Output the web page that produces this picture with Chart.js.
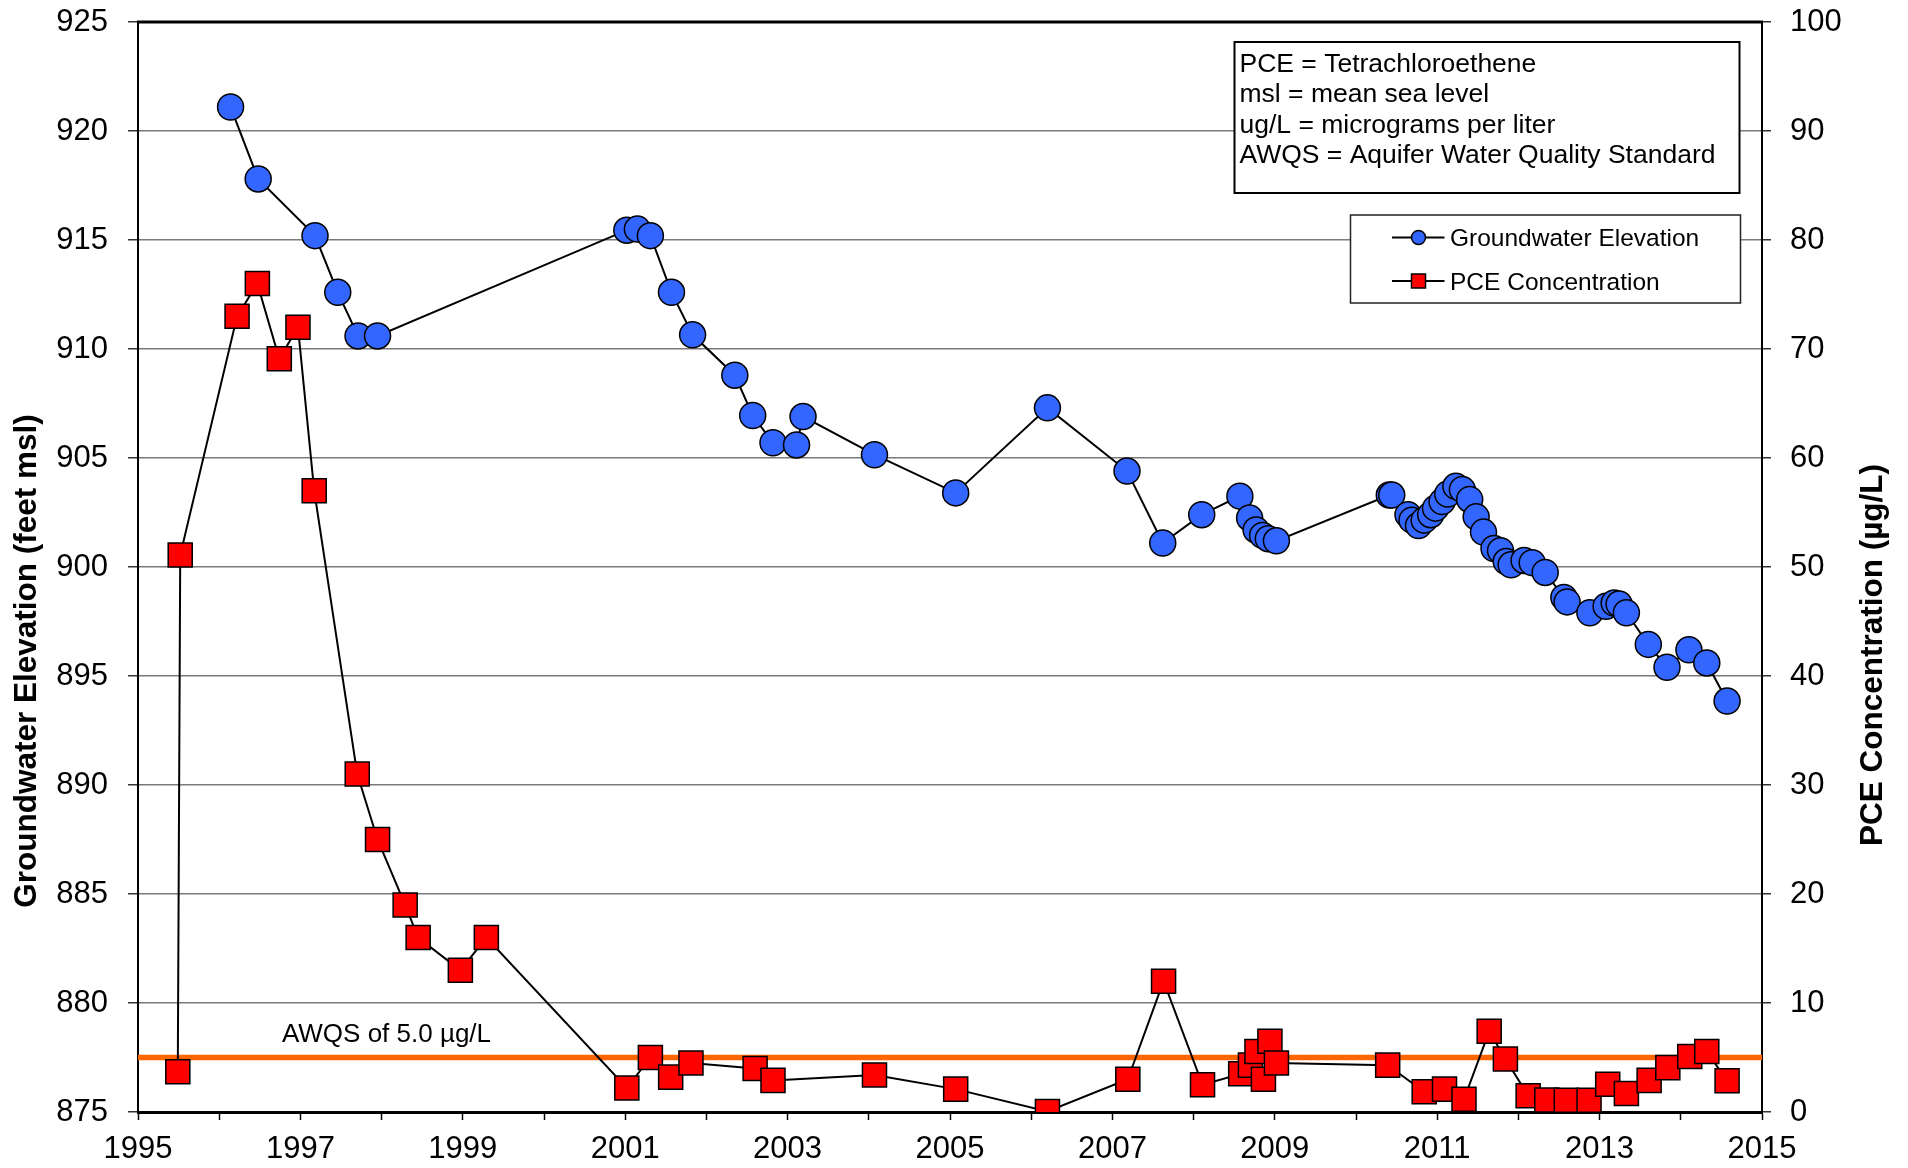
<!DOCTYPE html>
<html>
<head>
<meta charset="utf-8">
<script src="https://cdn.jsdelivr.net/npm/chart.js@4.4.1/dist/chart.umd.min.js"></script>
<style>
  body { margin: 0; background: #fff; }
  canvas { display: block; }
</style>
</head>
<body>
<canvas id="chart" width="1908" height="1168"></canvas>
<script>
// groundwater elevation (decimal year, feet msl)
const gwYears = [1996.14, 1996.48, 1997.18, 1997.46, 1997.71, 1997.95, 2001.02, 2001.15, 2001.31, 2001.57,
  2001.83, 2002.35, 2002.57, 2002.82, 2003.11, 2003.19, 2004.07, 2005.07, 2006.20, 2007.18,
  2007.62, 2008.10, 2008.57, 2008.69, 2008.77, 2008.85, 2008.92, 2009.02, 2010.41, 2010.44,
  2010.64, 2010.69, 2010.77, 2010.84, 2010.92, 2010.98, 2011.06, 2011.13, 2011.23, 2011.31,
  2011.40, 2011.48, 2011.57, 2011.70, 2011.78, 2011.85, 2011.91, 2012.07, 2012.17, 2012.33,
  2012.56, 2012.60, 2012.88, 2013.08, 2013.18, 2013.24, 2013.33, 2013.60, 2013.83, 2014.10,
  2014.32, 2014.57];
const gwElev = [921.1, 917.8, 915.2, 912.6, 910.6, 910.6, 915.45, 915.5, 915.2, 912.6,
  910.65, 908.8, 906.95, 905.7, 905.6, 906.9, 905.15, 903.4, 907.3, 904.4,
  901.1, 902.4, 903.25, 902.25, 901.7, 901.45, 901.3, 901.2, 903.3, 903.3,
  902.4, 902.15, 901.9, 902.15, 902.4, 902.7, 903.0, 903.35, 903.7, 903.55,
  903.1, 902.3, 901.6, 900.85, 900.75, 900.25, 900.1, 900.3, 900.2, 899.75,
  898.6, 898.4, 897.9, 898.2, 898.35, 898.3, 897.9, 896.45, 895.4, 896.2,
  895.6, 893.85];

// PCE concentration (decimal year, ug/L)
const pceYears = [1995.49, 1995.52, 1996.22, 1996.47, 1996.74, 1996.97, 1997.17, 1997.70, 1997.95, 1998.29,
  1998.45, 1998.97, 1999.29, 2001.02, 2001.31, 2001.56, 2001.81, 2002.60, 2002.82, 2004.07,
  2005.07, 2006.20, 2007.19, 2007.63, 2008.11, 2008.58, 2008.70, 2008.78, 2008.86, 2008.94,
  2009.02, 2010.39, 2010.84, 2011.09, 2011.33, 2011.64, 2011.84, 2012.12, 2012.35, 2012.59,
  2012.87, 2013.10, 2013.33, 2013.61, 2013.84, 2014.11, 2014.32, 2014.57];
const pceConc = [3.7, 51.1, 73.0, 76.0, 69.1, 72.0, 57.0, 31.0, 25.0, 19.0,
  16.0, 13.0, 16.0, 2.2, 5.0, 3.2, 4.5, 4.0, 2.9, 3.4,
  2.1, 0.05, 3.0, 12.0, 2.5, 3.5, 4.3, 5.55, 3.0, 6.5,
  4.5, 4.3, 1.86, 2.1, 1.17, 7.4, 4.86, 1.5, 1.1, 1.07,
  1.07, 2.55, 1.7, 2.9, 4.07, 5.1, 5.55, 2.86];

// standard line and notes
const awqsYears = [1995, 2015];
const awqsValue = 5.0;
const awqsLabel = 'AWQS of 5.0 µg/L';
const notes = ['PCE = Tetrachloroethene', 'msl = mean sea level', 'ug/L = micrograms per liter',
  'AWQS = Aquifer Water Quality Standard'];
const seriesNames = ['Groundwater Elevation', 'PCE Concentration'];
const leftTitle = 'Groundwater Elevation (feet msl)';
const rightTitle = 'PCE Concentration (µg/L)';

const FONT = "'Liberation Sans', Arial, sans-serif";
const BLUE = '#3366FF';
const RED = '#FF0000';
const ORANGE = '#FF6600';

function pts(xs, ys) {
  return xs.map((x, i) => ({ x: x, y: ys[i] }));
}

// y axes: fixed width, no extra padding for the end labels
function fixWidth(w) {
  return s => {
    s.width = w;
    s.paddingTop = 0;
    s.paddingBottom = 0;
  };
}

// titles, notes box, legend and AWQS label
const extras = {
  id: 'extras',
  afterDatasetsDraw(chart) {
    const ctx = chart.ctx;
    const a = chart.chartArea;
    const xs = chart.scales.x;
    const yR = chart.scales.yR;
    ctx.save();

    // top border
    ctx.strokeStyle = '#000';
    ctx.lineWidth = 3;
    ctx.beginPath();
    ctx.moveTo(a.left - 1, a.top);
    ctx.lineTo(a.right + 1, a.top);
    ctx.stroke();

    // AWQS label
    ctx.fillStyle = '#000';
    ctx.font = '26px ' + FONT;
    ctx.textAlign = 'center';
    ctx.textBaseline = 'alphabetic';
    ctx.fillText(awqsLabel, xs.getPixelForValue(1998.06), yR.getPixelForValue(awqsValue) - 16);

    // notes box
    let bx = 1234.5, by = 42, bw = 505, bh = 151;
    ctx.fillStyle = '#fff';
    ctx.fillRect(bx, by, bw, bh);
    ctx.strokeStyle = '#000';
    ctx.lineWidth = 2;
    ctx.strokeRect(bx, by, bw, bh);
    ctx.fillStyle = '#000';
    ctx.font = '26.5px ' + FONT;
    ctx.textAlign = 'left';
    notes.forEach((t, i) => ctx.fillText(t, bx + 5, by + 30 + i * 30.3));

    // legend box
    bx = 1350.5; by = 215; bw = 390; bh = 88;
    ctx.fillStyle = '#fff';
    ctx.fillRect(bx, by, bw, bh);
    ctx.strokeStyle = '#222';
    ctx.lineWidth = 1.5;
    ctx.strokeRect(bx, by, bw, bh);
    ctx.font = '24.5px ' + FONT;
    seriesNames.forEach((name, i) => {
      const cy = by + 22.5 + i * 43.5;
      ctx.strokeStyle = '#000';
      ctx.lineWidth = 2;
      ctx.beginPath();
      ctx.moveTo(1392, cy);
      ctx.lineTo(1444.5, cy);
      ctx.stroke();
      ctx.lineWidth = 1.5;
      ctx.beginPath();
      if (i === 0) {
        ctx.fillStyle = BLUE;
        ctx.arc(1418.5, cy, 7, 0, Math.PI * 2);
      } else {
        ctx.fillStyle = RED;
        ctx.rect(1411.5, cy - 7, 14, 14);
      }
      ctx.fill();
      ctx.stroke();
      ctx.fillStyle = '#000';
      ctx.fillText(name, 1450, cy + 8.8);
    });

    // axis titles
    ctx.font = 'bold 31.5px ' + FONT;
    ctx.textAlign = 'center';
    ctx.textBaseline = 'middle';
    ctx.save();
    ctx.translate(27, 661);
    ctx.rotate(-Math.PI / 2);
    ctx.fillText(leftTitle, 0, 0);
    ctx.restore();
    ctx.save();
    ctx.translate(1873, 655);
    ctx.rotate(-Math.PI / 2);
    ctx.fillText(rightTitle, 0, 0);
    ctx.restore();

    ctx.restore();
  }
};

new Chart(document.getElementById('chart'), {
  type: 'line',
  data: {
    datasets: [
      {
        label: seriesNames[0],
        data: pts(gwYears, gwElev),
        yAxisID: 'yL',
        borderColor: '#000',
        borderWidth: 2,
        pointStyle: 'circle',
        pointRadius: 13,
        pointBackgroundColor: BLUE,
        pointBorderColor: '#000',
        pointBorderWidth: 1.5,
        tension: 0,
        order: 1
      },
      {
        label: seriesNames[1],
        data: pts(pceYears, pceConc),
        yAxisID: 'yR',
        borderColor: '#000',
        borderWidth: 2,
        pointStyle: 'rect',
        pointRadius: 17,
        pointBackgroundColor: RED,
        pointBorderColor: '#000',
        pointBorderWidth: 1.5,
        tension: 0,
        order: 0
      },
      {
        label: 'AWQS',
        data: awqsYears.map(x => ({ x: x, y: awqsValue })),
        yAxisID: 'yR',
        borderColor: ORANGE,
        borderWidth: 5.5,
        pointRadius: 0,
        order: 2
      }
    ]
  },
  options: {
    responsive: false,
    animation: false,
    layout: { padding: { top: 22, left: 0, right: 0, bottom: 0 } },
    plugins: {
      legend: { display: false },
      tooltip: { enabled: false }
    },
    scales: {
      x: {
        type: 'linear',
        position: 'bottom',
        min: 1995,
        max: 2015,
        afterFit: s => { s.height = 56; s.paddingLeft = 0; s.paddingRight = 0; },
        ticks: {
          stepSize: 1,
          autoSkip: false,
          maxRotation: 0,
          padding: 11,
          color: '#000',
          font: { family: FONT, size: 31 },
          callback: v => (v % 2 === 1 ? String(v) : '')
        },
        grid: { drawOnChartArea: false, tickLength: 8, tickColor: '#000', tickWidth: 1.5 },
        border: { color: '#000', width: 3 }
      },
      yL: {
        type: 'linear',
        position: 'left',
        min: 875,
        max: 925,
        afterFit: fixWidth(138),
        ticks: {
          stepSize: 5,
          padding: 20,
          color: '#000',
          font: { family: FONT, size: 31 }
        },
        grid: { color: '#7a7a7a', lineWidth: 1.5, tickLength: 10, tickColor: '#333' },
        border: { color: '#000', width: 2 }
      },
      yR: {
        type: 'linear',
        position: 'right',
        min: 0,
        max: 100,
        afterFit: fixWidth(146),
        ticks: {
          stepSize: 10,
          padding: 19,
          color: '#000',
          font: { family: FONT, size: 31 }
        },
        grid: { drawOnChartArea: false, tickLength: 9, tickColor: '#333', lineWidth: 1.5 },
        border: { color: '#000', width: 2 }
      }
    }
  },
  plugins: [extras]
});
</script>
</body>
</html>
